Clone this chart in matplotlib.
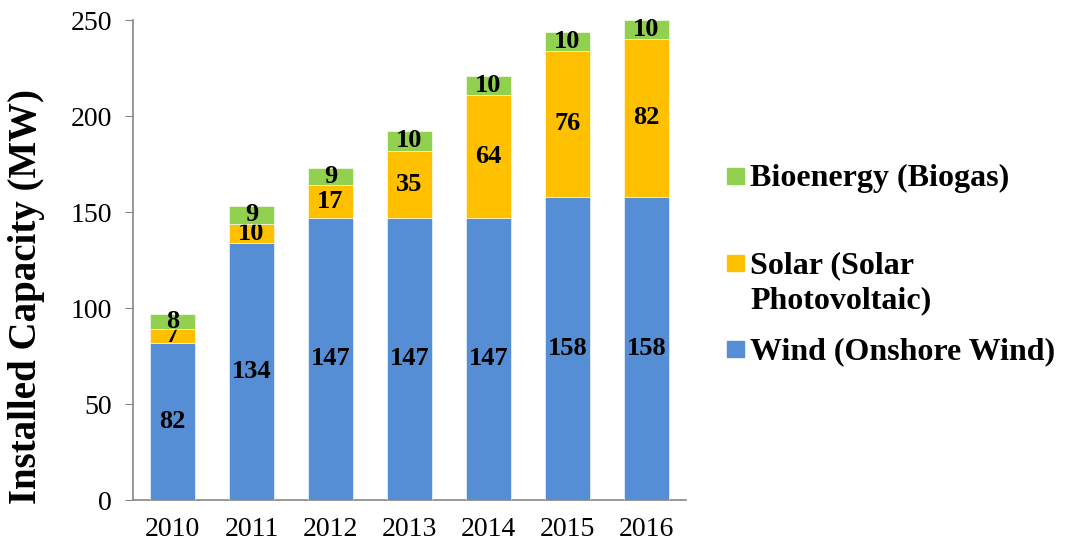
import matplotlib
matplotlib.use("Agg")
import matplotlib.pyplot as plt
import matplotlib.patches as mpatches
import numpy as np

plt.rcParams["font.family"] = ["Liberation Serif", "DejaVu Serif"]

years = ["2010", "2011", "2012", "2013", "2014", "2015", "2016"]
wind = [82, 134, 147, 147, 147, 158, 158]
solar = [7, 10, 17, 35, 64, 76, 82]
bio = [8, 9, 9, 10, 10, 10, 10]

series = [
    ("Wind (Onshore Wind)", wind, "#558ED5"),
    ("Solar (Solar\nPhotovoltaic)", solar, "#FFC000"),
    ("Bioenergy (Biogas)", bio, "#92D050"),
]

fig = plt.figure(figsize=(10.67, 5.5), dpi=100)
ax = fig.add_axes([0.1247, 0.0909, 0.518, 0.8727])

x = np.arange(len(years))
bottom = np.zeros(len(years))
for name, vals, col in series:
    bars = ax.bar(x, vals, 0.57, bottom=bottom, color=col,
                  edgecolor="white", linewidth=0.4, zorder=3)
    ax.bar_label(bars, labels=[str(v) for v in vals], label_type="center",
                 fontsize=19, fontweight="bold", color="black")
    bottom += np.array(vals)

ax.set_xlim(-0.5, len(years) - 0.5)
ax.set_ylim(0, 250)
ax.set_yticks(range(0, 251, 50))
ax.set_xticks(x)
ax.set_xticklabels(years)
ax.tick_params(axis="y", direction="out", length=6, color="#868686",
               labelsize=20, pad=9)
ax.tick_params(axis="x", length=0, labelsize=20, pad=12)
for s in ["top", "right"]:
    ax.spines[s].set_visible(False)
for s in ["left", "bottom"]:
    ax.spines[s].set_color("#868686")
    ax.spines[s].set_linewidth(1.2)
ax.set_ylabel("Installed Capacity (MW)", fontsize=28, fontweight="bold")
ax.yaxis.set_label_coords(-0.16, 0.423)

# legend drawn by hand to keep the marker on the first line of each entry
legend_rows = [
    ("Bioenergy (Biogas)", "#92D050", 176),
    ("Solar (Solar\nPhotovoltaic)", "#FFC000", 263),
    ("Wind (Onshore Wind)", "#558ED5", 349),
]
W, H = 1067, 550
for label, col, ypx in legend_rows:
    fig.patches.append(mpatches.Rectangle(
        (727 / W, 1 - (ypx + 8) / H), 17 / W, 16 / H,
        transform=fig.transFigure, color=col))
    fig.text(750 / W, 1 - (ypx - 12) / H, label, fontsize=23,
             fontweight="bold", va="top", ha="left", linespacing=1.3)

fig.savefig("out.png", dpi=100)
